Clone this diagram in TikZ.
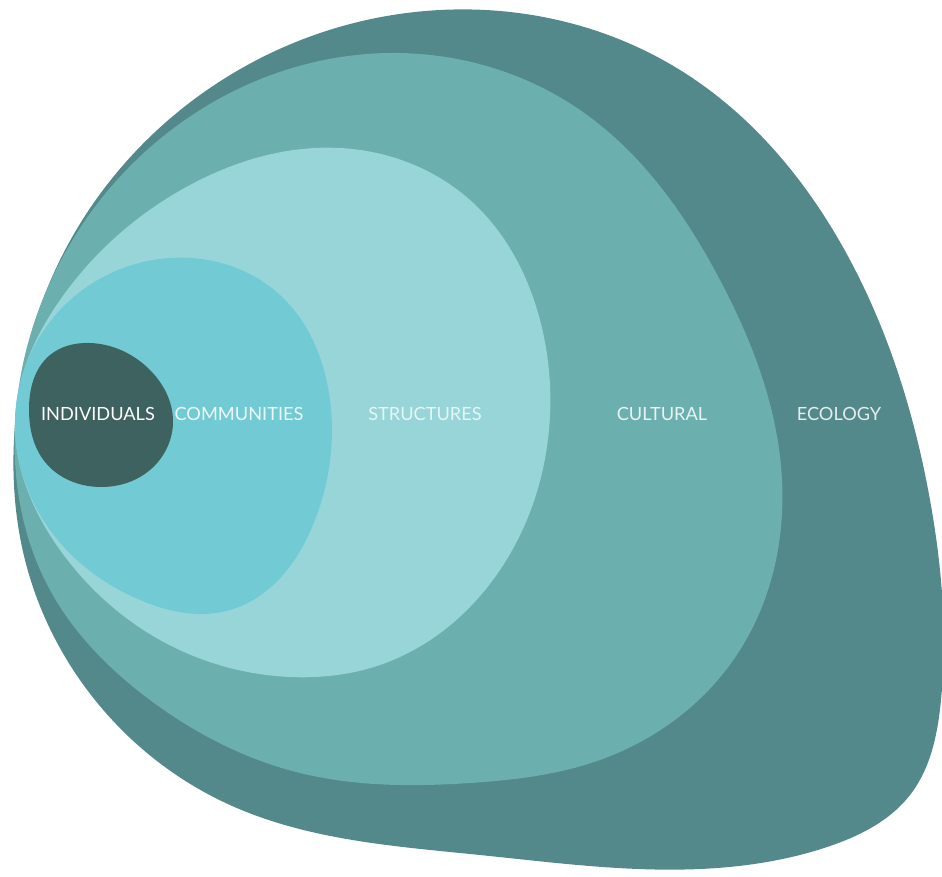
\documentclass[tikz,border=0pt]{standalone}
\usepackage{fontspec}
\setmainfont{Lato}
\usepackage{tikz}
\usetikzlibrary{positioning,hobby}

\definecolor{ecologyc}{HTML}{53898A}
\definecolor{culturalc}{HTML}{6BAFAE}
\definecolor{structuresc}{HTML}{98D5D8}
\definecolor{communitiesc}{HTML}{72CBD4}
\definecolor{individualsc}{HTML}{3E625F}

\tikzset{
  blob/.style={draw=none, fill=#1, use Hobby shortcut, closed=true},
  lbl/.style={anchor=center, inner sep=0.75pt, font=\fontsize{18.2}{21}\selectfont, text=#1},
}

\begin{document}
\begin{tikzpicture}[x=1pt,y=-1pt]
\useasboundingbox (0,0) rectangle (942,877);

%Shape: Ecology
\draw [blob=ecologyc] (14,440) .. (60,260) .. (200,95) .. (440,10) .. (680,70)
  .. (850,260) .. (930,500) .. (941,700) .. (910,795) .. (830,846) .. (700,869)
  .. (480,855) .. (230,805) .. (80,680) .. (25,560);
%Shape: Cultural
\draw [blob=culturalc] (15,425) .. (60,262) .. (200,110) .. (390,53) .. (580,110)
  .. (720,280) .. (782,480) .. (740,650) .. (600,760) .. (470,783)
  .. (300,773) .. (150,700) .. (50,590);
%Shape: Structures
\draw [blob=structuresc] (15,422) .. (60,300) .. (190,185) .. (340,148) .. (470,200)
  .. (540,320) .. (549,430) .. (500,570) .. (380,665) .. (290,677)
  .. (160,640) .. (60,550);
%Shape: Communities
\draw [blob=communitiesc] (15,420) .. (60,310) .. (170,258) .. (280,295) .. (330,400)
  .. (315,520) .. (230,610) .. (140,600) .. (50,530);
%Shape: Individuals
\draw [blob=individualsc] (29,410) .. (50,355) .. (90,343) .. (150,370) .. (173,420)
  .. (150,470) .. (100,487) .. (45,462);

% Text Node
\node [lbl=white] (individuals) at (98,414) {INDIVIDUALS};
% Text Node
\node [lbl=white!88!communitiesc] (communities) at (239,414) {COMMUNITIES};
% Text Node
\node [lbl=white!75!structuresc] (structures) at (425,414) {STRUCTURES};
% Text Node
\node [lbl=white!85!culturalc] (cultural) at (662,414) {CULTURAL};
% Text Node
\node [lbl=white!85!ecologyc] (ecology) at (839,414) {ECOLOGY};

\end{tikzpicture}
\end{document}
